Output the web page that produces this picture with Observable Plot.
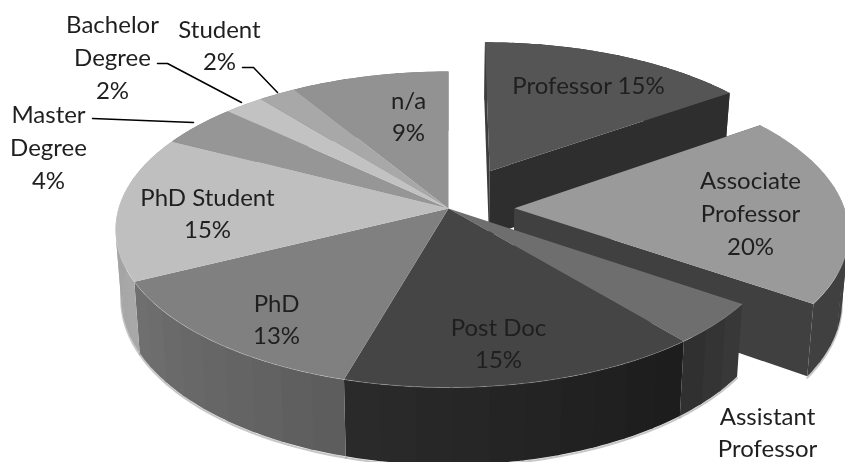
<!DOCTYPE html>
<html>
<head>
<meta charset="utf-8">
<script src="https://cdn.jsdelivr.net/npm/d3@7"></script>
<script src="https://cdn.jsdelivr.net/npm/@observablehq/plot@0.6"></script>
<style>
html,body{margin:0;padding:0;background:#fff;overflow:hidden}
svg{display:block;filter:blur(0.45px)}
</style>
</head>
<body>
<div id="chart"></div>
<script>
// Data (shares are the unrounded sizes of the slices)
const categories = ["Professor","Associate Professor","Assistant Professor","Post Doc","PhD","PhD Student","Master Degree","Bachelor Degree","Student","n/a"];
const shares     = [15.2, 19.4, 4.3, 15.5, 13.2, 14.9, 4.4, 2.2, 2.1, 8.7];
const explode    = [0.28, 0.2, 0, 0, 0, 0, 0, 0, 0, 0];

// Styles
const faceColors = ["#555555","#9a9a9a","#6e6e6e","#454545","#808080","#bfbfbf","#969696","#c2c2c2","#a8a8a8","#929292"];
const rimStart   = ["#2e2e2e","#404040","#3a3a3a","#1c1c1c","#5c5c5c","#a8a8a8","#777777","#999999","#888888","#777777"];
const rimEnd     = ["#2e2e2e","#404040","#2e2e2e","#2b2b2b","#707070","#a0a0a0","#777777","#999999","#888888","#777777"];
const cutColors  = ["#2e2e2e","#404040",null,null,null,null,null,null,null,null];

// Text annotations
const labelText = ["Professor 15%","Associate\nProfessor\n20%","Assistant\nProfessor","Post Doc\n15%","PhD\n13%","PhD Student\n15%","Master\nDegree\n4%","Bachelor\nDegree\n2%","Student\n2%","n/a\n9%"];
const labelX = [588,750,767,498,276,207,48,112,219,408];
const labelY = [83,211,430,341,317,211,145,55,43,114];

// Leader lines
const leaderName = ["Master Degree","Master Degree","Bachelor Degree","Bachelor Degree","Bachelor Degree","Student","Student","Student"];
const leaderX = [92,193,157,167,241,242,253,277];
const leaderY = [118,122,63,63,102,67,67,92];

// Projection of the tilted disc
const cx = 448, cy = 208, A = 155.2, B = 330, k = 0.133, depth = 67, shrink = 0.983;
function proj(X, Z, low) {
  const d = 1 - k * Z;
  let x = B * X / d, y = A * Z / d;
  if (low) { x *= shrink; y += depth / d; }
  return {x: cx + x, y: cy + y};
}
const total = d3.sum(shares);
let acc = 0;
const slices = categories.map((name, i) => {
  const a0 = acc / total * 2 * Math.PI;
  acc += shares[i];
  const a1 = acc / total * 2 * Math.PI;
  const mid = (a0 + a1) / 2;
  return {i, name, a0, a1, ox: explode[i] * Math.sin(mid), oz: -explode[i] * Math.cos(mid)};
});
const rimPt = (s, a, low) => proj(s.ox + Math.sin(a), s.oz - Math.cos(a), low);
const apex  = (s, low) => proj(s.ox, s.oz, low);

const polys = [];
let pid = 0;
function addPoly(pts, fill) { const id = pid++; pts.forEach(p => polys.push({x: p.x, y: p.y, id, fill})); }
function walls(s) {
  // outer wall as bands so its shade can vary; each band overlaps the next a little
  const n = Math.max(2, Math.ceil((s.a1 - s.a0) / 0.1));
  const mix = d3.interpolateRgb(rimStart[s.i], rimEnd[s.i]);
  for (let j = 0; j < n; j++) {
    const a = s.a0 + (s.a1 - s.a0) * j / n;
    const b = Math.min(s.a1, s.a0 + (s.a1 - s.a0) * (j + 1) / n + 0.01);
    const steps = d3.range(0, 7).map(t => a + (b - a) * t / 6);
    const c = d3.color(mix((j + .5) / n)).formatHex();
    addPoly([...steps.map(t => rimPt(s,t,false)), ...steps.reverse().map(t => rimPt(s,t,true))], c);
  }
  if (cutColors[s.i]) {
    addPoly([apex(s,false), rimPt(s,s.a0,false), rimPt(s,s.a0,true), apex(s,true)], s.i === 0 ? "#3c3c3c" : "#404040");
    addPoly([apex(s,false), rimPt(s,s.a1,false), rimPt(s,s.a1,true), apex(s,true)], cutColors[s.i]);
  }
}
function face(s) {
  const n = Math.ceil((s.a1 - s.a0) / 0.02), pts = [apex(s,false)];
  for (let j = 0; j <= n; j++) pts.push(rimPt(s, s.a0 + (s.a1 - s.a0) * j / n, false));
  addPoly(pts, faceColors[s.i]);
}
[0, 1].forEach(i => { walls(slices[i]); face(slices[i]); });
slices.slice(2).forEach(walls);
slices.slice(2).forEach(face);

// Edge highlight on the front rim, and soft shadow below it
const rimLine = [], shadowLine = [];
slices.forEach(s => {
  const lim0 = Math.max(s.a0, Math.PI * 0.3), lim1 = Math.min(s.a1, Math.PI * 1.55);
  if (lim1 <= lim0) return;
  for (let j = 0; j <= 40; j++) {
    const a = lim0 + (lim1 - lim0) * j / 40;
    rimLine.push({...rimPt(s, a, false), id: s.i});
    shadowLine.push({...rimPt(s, a, true), id: s.i});
  }
});

const labels = categories.map((c, i) => ({text: labelText[i], x: labelX[i], y: labelY[i]}));
const leaders = leaderName.map((n, i) => ({n, x: leaderX[i], y: leaderY[i]}));

const chart = Plot.plot({
  width: 845, height: 462,
  margin: 0,
  x: {axis: null, domain: [0, 845]},
  y: {axis: null, domain: [462, 0]},
  style: {background: "#fff", fontFamily: "Lato, sans-serif"},
  marks: [
    Plot.line(shadowLine, {x: "x", y: d => d.y + 1.5, z: "id", stroke: "#999", strokeWidth: 2, strokeOpacity: 0.55}),
    Plot.line(polys, {x: "x", y: "y", z: "id", fill: "fill", stroke: "none", curve: "linear"}),
    Plot.line(rimLine, {x: "x", y: "y", z: "id", stroke: "#fff", strokeOpacity: 0.2, strokeWidth: 1}),
    Plot.line(leaders, {x: "x", y: "y", z: "n", stroke: "#000", strokeWidth: 1.5}),
    Plot.text(labels, {x: "x", y: "y", text: "text", fontSize: 24, lineHeight: 1.37, fill: "#1f1f1f", textAnchor: "middle", lineAnchor: "middle"})
  ]
});
document.getElementById("chart").appendChild(chart);
</script>
</body>
</html>
